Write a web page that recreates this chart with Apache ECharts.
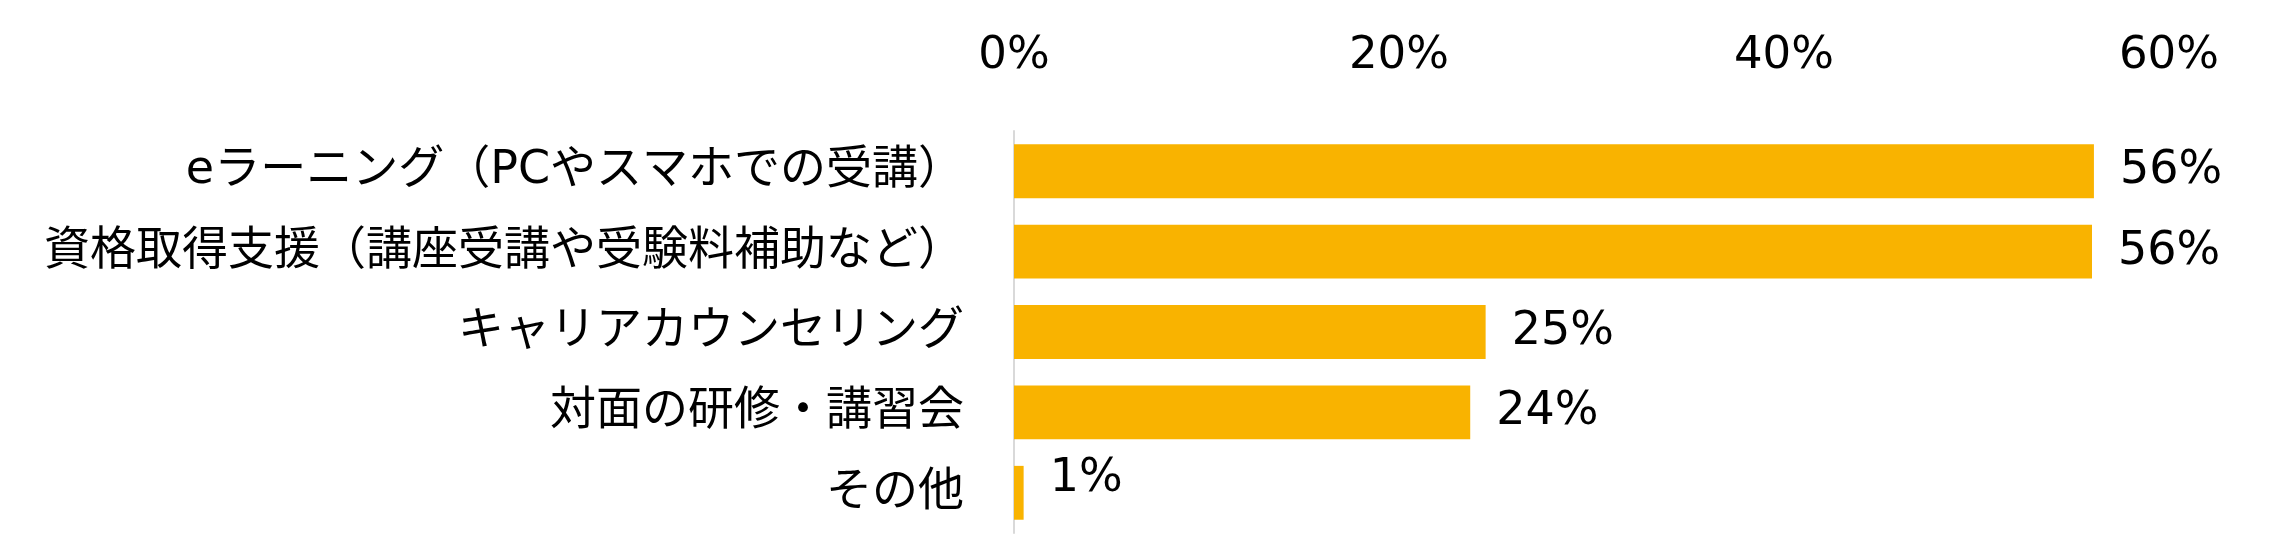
<!DOCTYPE html>
<html style="height: 100%">

<head>
    <meta charset="utf-8">
</head>

<body style="height: 100%; margin: 0; background: #fff">
    <div id="main" style="height: 100%"></div>
    <script type="text/javascript" src="https://cdn.jsdelivr.net/npm/echarts@6/dist/echarts.min.js"></script>
    <script type="text/javascript">

        var categories = [
            'eラーニング（PCやスマホでの受講）',
            '資格取得支援（講座受講や受験料補助など）',
            'キャリアカウンセリング',
            '対面の研修・講習会',
            'その他'
        ];
        // percent
        var values = [56.1, 56.0, 24.5, 23.7, 0.5];
        var tickLabels = ['0%', '20%', '40%', '60%'];

        var FONT = "'DejaVu Sans', 'Noto Sans CJK JP', sans-serif";

        var chartDom = document.getElementById('main');
        var myChart = echarts.init(chartDom);

        var barData = values.map(function (v, i) {
            var item = { value: v };
            // the small "その他" label sits a bit above its bar in the original
            if (i === values.length - 1) {
                item.label = { offset: [0, -14] };
            }
            return item;
        });

        var option = {
            backgroundColor: '#fff',
            animation: false,
            grid: {
                left: 1014,
                right: 111,
                top: 131,
                bottom: 23,
                containLabel: false
            },
            xAxis: {
                type: 'value',
                position: 'top',
                min: 0,
                max: 60,
                interval: 20,
                axisLine: { show: false },
                axisTick: { show: false },
                splitLine: { show: false },
                axisLabel: {
                    margin: 52,
                    fontSize: 45,
                    fontFamily: FONT,
                    color: '#000'
                    ,
                    formatter: function (v) {
                        return tickLabels[v / 20];
                    }
                }
            },
            yAxis: {
                type: 'category',
                inverse: true,
                data: categories,
                axisLine: {
                    show: true,
                    lineStyle: { color: '#d9d9d9', width: 2 }
                },
                axisTick: { show: false },
                axisLabel: {
                    margin: 50,
                    fontSize: 46,
                    fontFamily: FONT,
                    color: '#000'
                }
            },
            series: [{
                type: 'bar',
                data: barData,
                barCategoryGap: '33%',
                itemStyle: { color: '#F9B300' },
                label: {
                    show: true,
                    position: 'right',
                    distance: 26,
                    fontSize: 46,
                    fontFamily: FONT,
                    color: '#000',
                    formatter: function (p) {
                        return Math.round(p.value) + '%';
                    }
                }
            }]
        };

        myChart.setOption(option);

    </script>
</body>

</html>
